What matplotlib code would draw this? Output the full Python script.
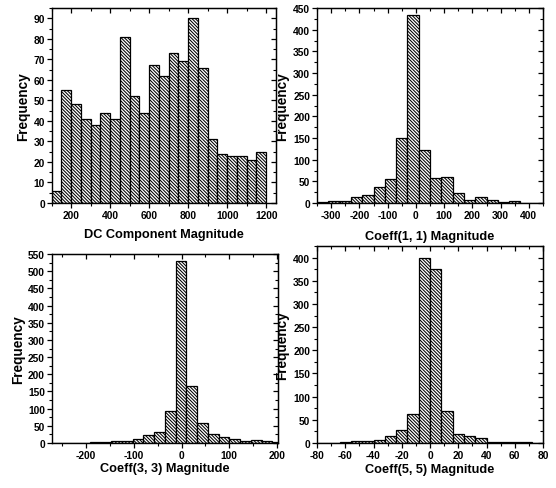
import numpy as np
import matplotlib
matplotlib.use("Agg")
import matplotlib.pyplot as plt
from matplotlib.ticker import MultipleLocator

plt.rcParams['font.family'] = ['Liberation Sans', 'DejaVu Sans']
plt.rcParams['font.weight'] = 'bold'
plt.rcParams['hatch.linewidth'] = 0.75
plt.rcParams['axes.unicode_minus'] = False

# ---- data ----
dc_edges = np.arange(100, 1201, 50)
dc_counts = [6, 55, 48, 41, 38, 44, 41, 81, 52, 44, 67, 62, 73, 69, 90, 66, 31, 24, 23, 23, 21, 25]

c11_edges = np.arange(-350, 451, 40)
c11_counts = [2, 4, 4, 14, 18, 38, 55, 150, 435, 122, 57, 60, 23, 8, 14, 6, 3, 4, 0, 1]

c33_edges = np.arange(-282.5, 213, 22.5)
c33_counts = [1, 1, 1, 1, 2, 4, 6, 7, 12, 23, 33, 93, 530, 165, 57, 27, 18, 12, 5, 9, 6, 2]

c55_edges = np.arange(-80, 81, 8)
c55_counts = [1, 1, 2, 4, 5, 7, 16, 28, 63, 400, 375, 68, 19, 15, 11, 3, 3, 2, 2, 0]

panels = [
    dict(edges=dc_edges, counts=dc_counts, xlabel='DC Component Magnitude',
         xlim=(100, 1250), ylim=(0, 95), xmaj=200, xmin=100, ymaj=10, ymin=5,
         box=(51.7, 276, 9, 204), xlab_y=235, ylab_x=23),
    dict(edges=c11_edges, counts=c11_counts, xlabel='Coeff(1, 1) Magnitude',
         xlim=(-350, 450), ylim=(0, 450), xmaj=100, xmin=50, ymaj=50, ymin=25,
         box=(317, 543, 9, 204), xlab_y=237, ylab_x=282),
    dict(edges=c33_edges, counts=c33_counts, xlabel='Coeff(3, 3) Magnitude',
         xlim=(-272, 201), ylim=(0, 550), xmaj=100, xmin=50, ymaj=50, ymin=25,
         box=(51.7, 277.5, 255, 444), xlab_y=469, ylab_x=18),
    dict(edges=c55_edges, counts=c55_counts, xlabel='Coeff(5, 5) Magnitude',
         xlim=(-80, 80), ylim=(0, 425), xmaj=20, xmin=10, ymaj=50, ymin=25,
         box=(317, 543, 247, 444), xlab_y=470, ylab_x=282),
]

W, H = 556, 489
fig = plt.figure(figsize=(W / 100, H / 100), dpi=100)

for p in panels:
    l, r, t, b = p['box']
    ax = fig.add_axes([l / W, 1 - b / H, (r - l) / W, (b - t) / H])
    edges = np.asarray(p['edges'], dtype=float)
    ax.bar(edges[:-1], p['counts'], width=np.diff(edges), align='edge',
           facecolor='white', edgecolor='black', linewidth=0.9,
           hatch='\\' * 10)
    ax.set_xlim(*p['xlim'])
    ax.set_ylim(*p['ylim'])
    ax.xaxis.set_major_locator(MultipleLocator(p['xmaj']))
    ax.xaxis.set_minor_locator(MultipleLocator(p['xmin']))
    ax.yaxis.set_major_locator(MultipleLocator(p['ymaj']))
    ax.yaxis.set_minor_locator(MultipleLocator(p['ymin']))
    ax.tick_params(which='major', direction='out', length=3.5, width=0.9,
                   labelsize=7.4, pad=1.5)
    ax.tick_params(which='minor', direction='out', length=2, width=0.8)
    for lab in ax.get_xticklabels() + ax.get_yticklabels():
        lab.set_fontweight('bold')
    for s in ax.spines.values():
        s.set_linewidth(1.0)
    # mirrored inward ticks on top / right
    sx = ax.secondary_xaxis('top')
    sx.xaxis.set_major_locator(MultipleLocator(p['xmaj']))
    sx.xaxis.set_minor_locator(MultipleLocator(p['xmin']))
    sx.tick_params(which='major', direction='in', length=3.5, width=0.9, labeltop=False)
    sx.tick_params(which='minor', direction='in', length=2, width=0.8)
    sy = ax.secondary_yaxis('right')
    sy.yaxis.set_major_locator(MultipleLocator(p['ymaj']))
    sy.yaxis.set_minor_locator(MultipleLocator(p['ymin']))
    sy.tick_params(which='major', direction='in', length=3.5, width=0.9, labelright=False)
    sy.tick_params(which='minor', direction='in', length=2, width=0.8)

    cx = (l + r) / 2
    fig.text(cx / W, 1 - p['xlab_y'] / H, p['xlabel'], ha='center', va='center',
             fontsize=9.2, fontweight='bold')
    fig.text(p['ylab_x'] / W, 1 - ((t + b) / 2) / H, 'Frequency', ha='center',
             va='center', rotation=90, fontsize=9.8, fontweight='bold')

fig.savefig('out.png', dpi=100)
